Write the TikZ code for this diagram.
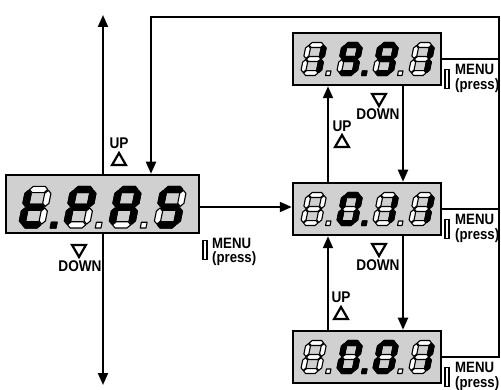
\documentclass[tikz,border=0pt]{standalone}
\usepackage{fontspec}
\setmainfont{Liberation Sans}
\newfontfamily\lblfont[FakeStretch=0.88]{Liberation Sans}
\usetikzlibrary{arrows.meta,shapes.geometric}
\definecolor{lcdgray}{RGB}{208,208,208}
% seven segment pieces (local units: width 1, height 1.6)
\newcommand\sgA[1]{\path[#1] (0.15,1.48)--(0.27,1.6)--(0.73,1.6)--(0.85,1.48)--(0.73,1.36)--(0.27,1.36)--cycle;}
\newcommand\sgG[1]{\path[#1] (0.15,0.8)--(0.27,0.92)--(0.73,0.92)--(0.85,0.8)--(0.73,0.68)--(0.27,0.68)--cycle;}
\newcommand\sgD[1]{\path[#1] (0.15,0.12)--(0.27,0.24)--(0.73,0.24)--(0.85,0.12)--(0.73,0)--(0.27,0)--cycle;}
\newcommand\sgF[1]{\path[#1] (0.12,0.83)--(0.24,0.95)--(0.24,1.33)--(0.12,1.45)--(0,1.33)--(0,0.95)--cycle;}
\newcommand\sgB[1]{\path[#1] (0.88,0.83)--(1,0.95)--(1,1.33)--(0.88,1.45)--(0.76,1.33)--(0.76,0.95)--cycle;}
\newcommand\sgE[1]{\path[#1] (0.12,0.15)--(0.24,0.27)--(0.24,0.65)--(0.12,0.77)--(0,0.65)--(0,0.27)--cycle;}
\newcommand\sgC[1]{\path[#1] (0.88,0.15)--(1,0.27)--(1,0.65)--(0.88,0.77)--(0.76,0.65)--(0.76,0.27)--cycle;}
\newcommand\sgP[1]{\path[#1] (1.24,0)--(1.46,0)--(1.46,0.22)--(1.24,0.22)--cycle;}
\newcommand\sgN[1]{}
% #1 x, #2 y of bottom, #3 scale, #4 off list, #5 on list
\newcommand\sdigitx[5]{%
  \begin{scope}[shift={(#1pt,-#2pt)},x={(#3pt,0pt)},y={(0.2*#3pt,#3pt)}]
    \foreach \s in {#4}{\csname sg\s\endcsname{segoff}}
    \foreach \s in {#5}{\csname sg\s\endcsname{segon}}
  \end{scope}}
\newcommand\sdig[4]{\sdigitx{#1}{#2}{#3}{A,B,C,D,E,F,G,P}{#4}}
\newcommand\sdiglast[4]{\sdigitx{#1}{#2}{#3}{A,B,C,D,E,F,G}{#4}}
\tikzset{
  segoff/.style={fill=white,draw=black,line width=1.1pt,line join=round},
  segon/.style={fill=black,draw=black,line width=1.1pt,line join=round},
  dispbox/.style={draw=black,fill=lcdgray,line width=2.5pt,inner sep=0pt},
  conn/.style={draw=black,line width=2pt},
  arr/.style={conn,-{Triangle[length=12pt,width=10pt]}},
  lbl/.style={font=\lblfont\fontsize{15.5}{14}\selectfont\bfseries,inner sep=0pt},
  menutxt/.style={font=\lblfont\fontsize{15}{14.5}\selectfont\bfseries,inner sep=0pt,align=left,anchor=west},
  menubar/.style={draw=black,fill=white,line width=1.6pt,minimum width=4pt,minimum height=19pt,inner sep=0pt},
  tri/.style={regular polygon,regular polygon sides=3,draw=black,line width=2.2pt,minimum size=16pt,inner sep=0pt},
  triup/.style={tri},
  tridown/.style={tri,shape border rotate=180},
}
\begin{document}
\begin{tikzpicture}[x=1pt,y=-1pt]
\useasboundingbox (0,0) rectangle (501,390);
% free ends / route coordinates
\coordinate (upT) at (103,15);
\coordinate (dnB) at (103,385);
\coordinate (tr) at (499,17);
\coordinate (tl) at (151,17);
\coordinate (lm) at (0,207);
\coordinate (ux) at (328,0);
\coordinate (dx) at (403,0);
% boxes
\node[dispbox,minimum width=193pt,minimum height=58pt] (L) at (102.5,204) {};
\node[dispbox,minimum width=148pt,minimum height=52pt] (Rt) at (367,59) {};
\node[dispbox,minimum width=148pt,minimum height=52pt] (Rm) at (367,209) {};
\node[dispbox,minimum width=148pt,minimum height=52pt] (Rb) at (367,357) {};
% connectors
\draw[arr] (upT |- L.north) -- (upT);
\draw[arr] (dnB |- L.south) -- (dnB);
\draw[arr] (Rb.east) -| (tr) -| (tl |- L.north);
\draw[conn] (Rt.east) -- (Rt.east -| tr);
\draw[conn] (Rm.east) -- (Rm.east -| tr);
\draw[arr] (L.east |- lm) -- (Rm.west |- lm);
\draw[arr] (Rm.north -| ux) -- (Rt.south -| ux);
\draw[arr] (Rt.south -| dx) -- (Rm.north -| dx);
\draw[arr] (Rb.north -| ux) -- (Rm.south -| ux);
\draw[arr] (Rm.south -| dx) -- (Rb.north -| dx);
% left display: t.PAS
\sdig{18}{228}{26}{D,E,F,G,P}
\sdig{63}{228}{26}{A,B,E,F,G}
\sdig{108}{228}{26}{A,B,C,E,F,G}
\sdiglast{153}{228}{26}{A,C,D,F,G}
% top right: 19.91
\sdig{300}{75.5}{20.6}{B,C}
\sdig{336}{75.5}{20.6}{A,B,C,D,F,G,P}
\sdig{372}{75.5}{20.6}{A,B,C,D,F,G}
\sdiglast{408}{75.5}{20.6}{B,C}
% middle right: 0.11
\sdig{300}{225.5}{20.6}{N}
\sdig{336}{225.5}{20.6}{A,B,C,D,E,F,P}
\sdig{372}{225.5}{20.6}{B,C}
\sdiglast{408}{225.5}{20.6}{B,C}
% bottom right: 0.01
\sdig{300}{373.5}{20.6}{N}
\sdig{336}{373.5}{20.6}{A,B,C,D,E,F,P}
\sdig{372}{373.5}{20.6}{A,B,C,D,E,F}
\sdiglast{408}{373.5}{20.6}{B,C}
% MENU labels
\node[menubar] (mbL) at (205,250) {};
\node[menutxt] (mtL) at (212,252) {MENU\\(press)};
\node[menubar] (mbT) at (447,79) {};
\node[menutxt] (mtT) at (455,78.5) {MENU\\(press)};
\node[menubar] (mbM) at (447,229) {};
\node[menutxt] (mtM) at (455,228.5) {MENU\\(press)};
\node[menubar] (mbB) at (447,377) {};
\node[menutxt] (mtB) at (455,376.5) {MENU\\(press)};
% UP / DOWN labels
\node[lbl] (upL) at (119,143) {UP};
\node[triup] (tuL) at (119,161) {};
\node[tridown] (tdL) at (79,249) {};
\node[lbl] (dnL) at (80,266) {DOWN};
\node[tridown] (tdT) at (379,98) {};
\node[lbl] (dnT) at (378,114) {DOWN};
\node[lbl] (upT1) at (342,126) {UP};
\node[triup] (tuT) at (342,143) {};
\node[tridown] (tdM) at (379,248) {};
\node[lbl] (dnM) at (378,265) {DOWN};
\node[lbl] (upB) at (341,297) {UP};
\node[triup] (tuB) at (341,315) {};
\end{tikzpicture}
\end{document}
